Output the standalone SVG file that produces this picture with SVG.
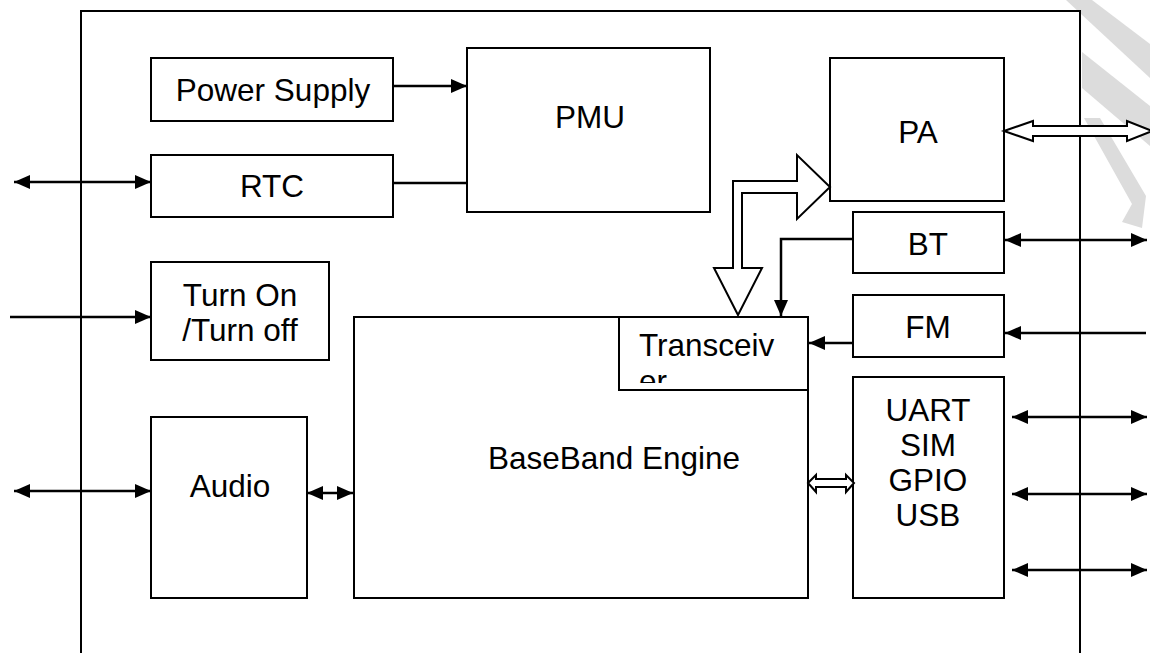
<svg xmlns="http://www.w3.org/2000/svg" width="1150" height="653" viewBox="0 0 1150 653">
<style>
.box{fill:#fff;stroke:#000;stroke-width:2}
.frame{fill:none;stroke:#000;stroke-width:2}
.ln{fill:none;stroke:#000;stroke-width:2.5}
.hol{fill:#fff;stroke:#000;stroke-width:2;stroke-linejoin:miter}
.t{font-family:"Liberation Sans",Arial,sans-serif;font-size:31.5px;fill:#000}
.wm{fill:#dcdcdc}
</style>
<defs>
<marker id="ah" viewBox="0 0 16 14" refX="16" refY="7" markerWidth="16" markerHeight="14" markerUnits="userSpaceOnUse" orient="auto-start-reverse">
<path d="M0,0 L16,7 L0,14 z" fill="#000"/>
</marker>
<clipPath id="tclip"><rect x="620" y="318" width="188" height="65"/></clipPath>
</defs>
<rect width="1150" height="653" fill="#fff"/>
<g id="watermark">
<polygon class="wm" points="1066,0 1092,0 1150,44 1150,78"/>
<polygon class="wm" points="1082,52 1150,106 1150,146 1082,88"/>
<polygon class="wm" points="1084,118 1100,118 1146,196 1142,228 1122,222 1132,204"/>
</g>
<rect id="frame" class="frame" x="81" y="11" width="999" height="660"/>
<g id="power-supply"><rect class="box" x="151" y="58" width="242" height="63"/><text class="t" x="273" y="101" text-anchor="middle">Power Supply</text></g>
<g id="rtc"><rect class="box" x="151" y="155" width="242" height="62"/><text class="t" x="272" y="197" text-anchor="middle">RTC</text></g>
<g id="pmu"><rect class="box" x="467" y="48" width="243" height="164"/><text class="t" x="590" y="128" text-anchor="middle">PMU</text></g>
<g id="pa"><rect class="box" x="830" y="58" width="174" height="143"/><text class="t" x="918" y="143" text-anchor="middle">PA</text></g>
<g id="bt"><rect class="box" x="853" y="212" width="151" height="61"/><text class="t" x="928" y="255" text-anchor="middle">BT</text></g>
<g id="fm"><rect class="box" x="853" y="295" width="151" height="62"/><text class="t" x="928" y="338" text-anchor="middle">FM</text></g>
<g id="uart"><rect class="box" x="853" y="377" width="151" height="221"/>
<text class="t" x="928" y="421" text-anchor="middle">UART</text>
<text class="t" x="928" y="456" text-anchor="middle">SIM</text>
<text class="t" x="928" y="491" text-anchor="middle">GPIO</text>
<text class="t" x="928" y="526" text-anchor="middle">USB</text></g>
<g id="turn-on"><rect class="box" x="151" y="262" width="178" height="98"/>
<text class="t" x="240" y="306" text-anchor="middle">Turn On</text>
<text class="t" x="240" y="341" text-anchor="middle">/Turn off</text></g>
<g id="audio"><rect class="box" x="151" y="417" width="156" height="181"/><text class="t" x="230" y="497" text-anchor="middle">Audio</text></g>
<g id="baseband"><rect class="box" x="354" y="317" width="454" height="281"/><text class="t" x="614" y="469" text-anchor="middle">BaseBand Engine</text></g>
<g id="transceiver"><rect class="box" x="619" y="317" width="189" height="73"/>
<g clip-path="url(#tclip)"><text class="t" x="639" y="356">Transceiv</text><text class="t" x="639" y="392">er</text></g></g>
<g id="connectors">
<line class="ln" x1="393" y1="86" x2="467" y2="86" marker-end="url(#ah)"/>
<line class="ln" x1="393" y1="183" x2="467" y2="183"/>
<line class="ln" x1="14" y1="182" x2="151" y2="182" marker-start="url(#ah)" marker-end="url(#ah)"/>
<line class="ln" x1="10" y1="317" x2="151" y2="317" marker-end="url(#ah)"/>
<line class="ln" x1="14" y1="491" x2="151" y2="491" marker-start="url(#ah)" marker-end="url(#ah)"/>
<line class="ln" x1="307" y1="493" x2="353" y2="493" marker-start="url(#ah)" marker-end="url(#ah)"/>
<polyline class="ln" points="853,239 781,239 781,316" marker-end="url(#ah)"/>
<line class="ln" x1="1005" y1="240" x2="1147" y2="240" marker-start="url(#ah)" marker-end="url(#ah)"/>
<line class="ln" x1="1146" y1="333" x2="1005" y2="333" marker-end="url(#ah)"/>
<line class="ln" x1="853" y1="343" x2="809" y2="343" marker-end="url(#ah)"/>
<line class="ln" x1="1012" y1="417" x2="1147" y2="417" marker-start="url(#ah)" marker-end="url(#ah)"/>
<line class="ln" x1="1012" y1="494" x2="1147" y2="494" marker-start="url(#ah)" marker-end="url(#ah)"/>
<line class="ln" x1="1012" y1="570" x2="1147" y2="570" marker-start="url(#ah)" marker-end="url(#ah)"/>
<polygon class="hol" points="733,268 733,181 797,181 797,155 830,187 797,219 797,193 742,193 742,268 762,268 738,315 714,268"/>
<polygon class="hol" points="1004,131 1033,121 1033,126 1127,126 1127,121 1152,131 1127,141 1127,136 1033,136 1033,141"/>
<polygon class="hol" points="808,483 816,475 816,479 846,479 846,475 854,483 846,492 846,487 816,487 816,492"/>
</g>
</svg>
